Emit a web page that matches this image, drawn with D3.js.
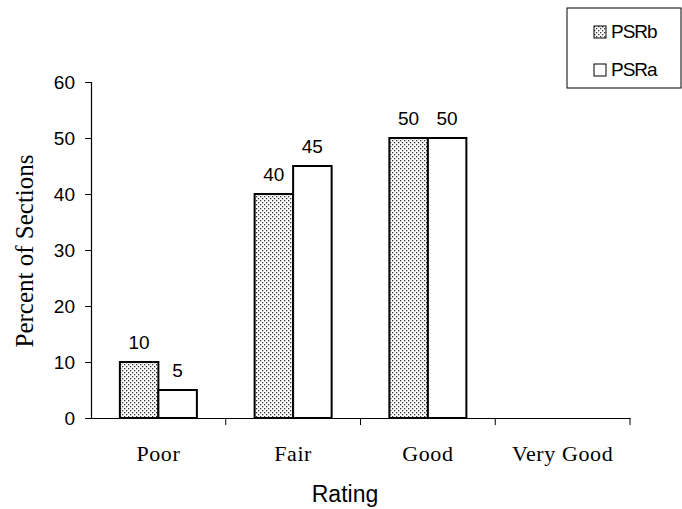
<!DOCTYPE html>
<html>
<head>
<meta charset="utf-8">
<script src="https://cdn.jsdelivr.net/npm/d3@7"></script>
<style>
  body { margin: 0; background: #fff; }
</style>
</head>
<body>
<svg width="682" height="509"></svg>
<script>
// data
const ratings = ["Poor", "Fair", "Good", "Very Good"]
const seriesNames = ["PSRb", "PSRa"]
const psrb = [10, 40, 50, null]
const psra = [5, 45, 50, null]
const yTicks = [0, 10, 20, 30, 40, 50, 60]

const svg = d3.select("svg")
const sans = "Arial, 'Liberation Sans', sans-serif"
const serif = "'Times New Roman', 'Liberation Serif', serif"

// dotted fill for PSRb
const defs = svg.append("defs")
const pat = defs.append("pattern")
  .attr("id", "dots")
  .attr("patternUnits", "userSpaceOnUse")
  .attr("width", 4).attr("height", 4)
pat.append("rect").attr("width", 4).attr("height", 4).attr("fill", "#fff")
pat.append("rect").attr("x", 0).attr("y", 0).attr("width", 1.3).attr("height", 1.3).attr("fill", "#333")
pat.append("rect").attr("x", 2).attr("y", 2).attr("width", 1.3).attr("height", 1.3).attr("fill", "#333")

const fills = ["url(#dots)", "#fff"]

const x = d3.scaleBand().domain(ratings).range([91, 630])
const groupW = 77
const x1 = d3.scaleBand().domain(seriesNames).range([0, groupW])
const y = d3.scaleLinear().domain([0, 60]).range([418, 82])

// y axis
const yAxis = svg.append("g")
  .attr("transform", "translate(91,0)")
  .call(d3.axisLeft(y).tickValues(yTicks).tickSize(6).tickPadding(10))
yAxis.select(".domain").attr("stroke", "#000").attr("stroke-width", 1.2)
yAxis.selectAll(".tick line").attr("stroke", "#000")
yAxis.selectAll("text")
  .attr("font-family", sans).attr("font-size", 19).attr("fill", "#000")

// x axis
const xAxis = svg.append("g")
  .attr("transform", "translate(0,418)")
  .call(d3.axisBottom(x).tickSize(0).tickFormat(""))
xAxis.select(".domain").attr("stroke", "#000").attr("stroke-width", 1.2)
// ticks sit on category boundaries
xAxis.selectAll(".bound")
  .data(ratings)
  .enter().append("line")
  .attr("x1", d => x(d) + x.bandwidth())
  .attr("x2", d => x(d) + x.bandwidth())
  .attr("y1", 0).attr("y2", 7)
  .attr("stroke", "#000")
xAxis.selectAll(".lab")
  .data(ratings)
  .enter().append("text")
  .attr("x", d => x(d) + x.bandwidth() / 2)
  .attr("y", 43)
  .attr("text-anchor", "middle")
  .attr("font-family", serif)
  .attr("font-size", 22)
  .attr("letter-spacing", 0.6)
  .attr("fill", "#000")
  .text(d => d)

// bars
const groups = [psrb, psra]
groups.forEach((vals, s) => {
  const name = seriesNames[s]
  const rows = ratings.map((r, i) => ({ r: r, v: vals[i] })).filter(d => d.v != null)
  const off = (x.bandwidth() - groupW) / 2
  svg.selectAll(".bar-" + name)
    .data(rows)
    .enter().append("rect")
    .attr("x", d => x(d.r) + off + x1(name))
    .attr("y", d => y(d.v))
    .attr("width", x1.bandwidth())
    .attr("height", d => y(0) - y(d.v))
    .attr("fill", fills[s])
    .attr("stroke", "#000")
    .attr("stroke-width", 2)
  svg.selectAll(".lbl-" + name)
    .data(rows)
    .enter().append("text")
    .attr("x", d => x(d.r) + off + x1(name) + x1.bandwidth() / 2)
    .attr("y", d => y(d.v) - 13)
    .attr("text-anchor", "middle")
    .attr("font-family", sans)
    .attr("font-size", 19)
    .text(d => d.v)
})

// axis titles
svg.append("text")
  .attr("transform", "translate(33,251) rotate(-90)")
  .attr("text-anchor", "middle")
  .attr("font-family", serif)
  .attr("font-size", 25)
  .text("Percent of Sections")

svg.append("text")
  .attr("x", 345)
  .attr("y", 502)
  .attr("text-anchor", "middle")
  .attr("font-family", sans)
  .attr("font-size", 23)
  .text("Rating")

// legend
const lg = svg.append("g")
lg.append("rect")
  .attr("x", 567).attr("y", 8).attr("width", 114).attr("height", 80)
  .attr("fill", "#fff").attr("stroke", "#000")
seriesNames.forEach((n, i) => {
  lg.append("rect")
    .attr("x", 594).attr("y", 26 + i * 38).attr("width", 12).attr("height", 12)
    .attr("fill", fills[i]).attr("stroke", "#000")
  lg.append("text")
    .attr("x", 611).attr("y", 38 + i * 38)
    .attr("font-family", sans)
    .attr("font-size", 19)
    .attr("letter-spacing", -1)
    .text(n)
})
</script>
</body>
</html>
